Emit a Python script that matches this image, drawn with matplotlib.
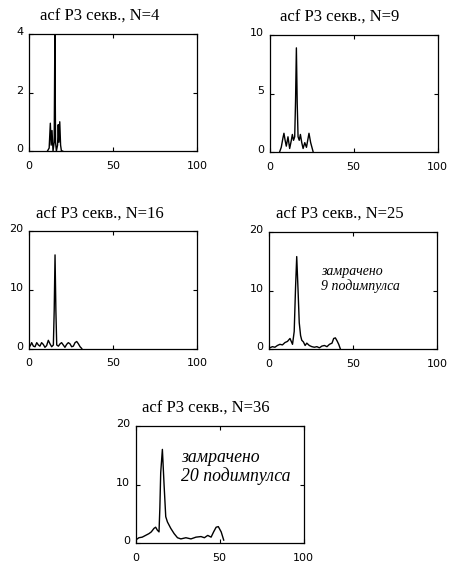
import matplotlib.pyplot as plt
from matplotlib import transforms

plt.rcParams['font.family'] = ['DejaVu Sans']

# acf curves (lag, |acf|)
x_n4 = [11, 12, 12.7, 13.2, 13.7, 14.3, 15, 15.4, 15.8, 16.3, 17, 17.4, 17.8, 18.3, 18.8, 19.3, 20]
y_n4 = [0, 0.1, 0.95, 0.2, 0.7, 0.0, 0.3, 4.0, 0.3, 0.0, 0.2, 0.9, 0.3, 1.0, 0.2, 0.0, 0]

x_n9 = [6, 7, 8, 8.6, 9.3, 10, 11, 12, 13, 13.6, 14.3, 15, 15.5, 16, 16.5, 17, 17.7,
        18.4, 19.2, 20, 21, 22, 23, 23.5, 24.5, 26]
y_n9 = [0, 0.4, 1.2, 1.6, 1.0, 0.5, 1.3, 0.3, 1.0, 1.5, 1.0, 1.3, 4.3, 8.9, 4.1, 1.3, 1.0,
        1.5, 0.8, 0.3, 0.8, 0.4, 1.2, 1.6, 0.8, 0]

x_n16 = [0, 0.8, 1.6, 2.6, 3.6, 4.6, 5.6, 6.5, 7.5, 8.5, 9.5, 10.5, 11.5, 12.5, 13.5, 14.5,
         15, 15.5, 16, 16.5, 17.5, 18.5, 19.4, 20.4, 21.4, 22.4, 23.4, 24.4, 25.4, 26.4,
         27.4, 28.4, 29.4, 30.4, 31.4]
y_n16 = [0.2, 0.5, 1.0, 0.4, 0.3, 1.0, 0.6, 0.4, 1.0, 0.7, 0.2, 0.5, 1.4, 0.8, 0.3, 0.6,
         6.5, 16, 6.5, 0.6, 0.4, 0.8, 1.0, 0.6, 0.2, 0.7, 1.0, 0.8, 0.3, 0.4,
         1.0, 1.2, 0.8, 0.3, 0]

x_n25 = [0.5, 2, 3.5, 5, 6.5, 8, 9.5, 11, 12.5, 14, 15, 15.8, 16.5, 17.3, 18, 18.8, 19.5,
         20.5, 21.5, 22.5, 24, 25.5, 27, 28.5, 30, 31.5, 33, 34.5, 36, 37.5, 38.5, 39.5,
         40.5, 41.5, 42.5]
y_n25 = [0.2, 0.4, 0.3, 0.6, 0.8, 0.7, 1.1, 1.3, 1.8, 0.8, 3.0, 10.5, 15.8, 10.0, 4.5, 2.3,
         1.5, 1.2, 0.6, 1.0, 0.6, 0.4, 0.3, 0.4, 0.2, 0.5, 0.6, 0.4, 0.8, 1.0, 1.8, 1.9,
         1.4, 0.8, 0]

x_n36 = [0.6, 2, 4, 6, 8, 9.4, 11, 12, 13, 14, 14.5, 15, 16, 17, 18, 19, 21, 23, 25, 27,
         30, 33, 36, 39, 41, 43, 45, 46.5, 48, 49.3, 51, 52.5]
y_n36 = [0.6, 0.9, 1.0, 1.3, 1.6, 1.9, 2.5, 2.7, 2.2, 1.9, 6.0, 12.0, 16.0, 10.0, 4.5, 3.6,
         2.5, 1.6, 0.9, 0.7, 0.9, 0.7, 1.0, 1.1, 0.9, 1.3, 1.0, 1.9, 2.7, 2.8, 1.9, 0.5]

titles = ['acf P3 секв., N=4', 'acf P3 секв., N=9', 'acf P3 секв., N=16',
          'acf P3 секв., N=25', 'acf P3 секв., N=36']
ymax = [4, 10, 20, 20, 20]
yticks = [[0, 2, 4], [0, 5, 10], [0, 10, 20], [0, 10, 20], [0, 10, 20]]
notes = [None, None, None, 'замрачено\n9 подимпулса', 'замрачено\n20 подимпулса']

curves = [(x_n4, y_n4), (x_n9, y_n9), (x_n16, y_n16), (x_n25, y_n25), (x_n36, y_n36)]

W, H = 453, 565
aw, ah = 168, 117
# left, top of each axes in pixels
boxes = [(29, 34), (269.5, 35), (29, 231.5), (269, 232), (135.5, 426)]
note_pos = [None, None, None, (31, 12), (27, 13)]
note_size = [None, None, None, 10, 12.8]

fig = plt.figure(figsize=(W / 100, H / 100), dpi=100)
for i in range(5):
    l, t = boxes[i]
    ax = fig.add_axes([l / W, (H - t - ah) / H, aw / W, ah / H])
    x, y = curves[i]
    ax.plot(x, y, color='black', lw=1.0)
    ax.set_xlim(0, 100)
    ax.set_ylim(0, ymax[i])
    ax.set_xticks([0, 50, 100])
    ax.set_yticks(yticks[i])
    ax.tick_params(direction='in', top=True, right=True, length=3, width=0.8, labelsize=8)
    ax.tick_params(axis='x', pad=7)
    ax.tick_params(axis='y', pad=4)
    for sp in ax.spines.values():
        sp.set_linewidth(0.9)
    off = transforms.ScaledTranslation(0, 3 / 100, fig.dpi_scale_trans)
    for lab in ax.get_yticklabels():
        lab.set_transform(lab.get_transform() + off)
    ax.text(0.42, 1 + 17 / ah, titles[i], transform=ax.transAxes, ha='center', va='center',
            family='Liberation Serif', fontsize=12)
    if notes[i]:
        ax.text(note_pos[i][0], note_pos[i][1], notes[i], ha='left', va='center',
                family='Liberation Serif', style='italic', fontsize=note_size[i],
                linespacing=1.1)

fig.savefig('out.png', dpi=100)
